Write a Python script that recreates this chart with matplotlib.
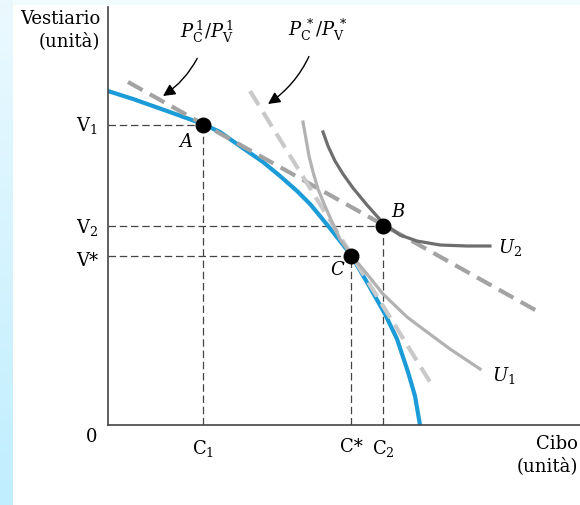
import numpy as np
import matplotlib.pyplot as plt
from matplotlib.colors import LinearSegmentedColormap

plt.rcParams['font.family'] = ['DejaVu Serif']
plt.rcParams['mathtext.fontset'] = 'dejavuserif'

# frontiera delle possibilita produttive
ppf_x = [0, 25, 59, 95, 112, 129, 155, 172, 189, 202, 212, 225, 243, 260, 277, 289, 300, 307, 312]
ppf_y = [334, 326, 314, 301, 293, 281, 263, 249, 234, 221, 209, 193, 170, 141, 111, 86, 53, 29, 0]

# curve di indifferenza
u1_x = [195, 198, 201, 205, 210, 217, 224, 232, 244, 259, 275, 299, 319, 342, 372]
u1_y = [303, 286, 269, 253, 236, 219, 203, 186, 169, 151, 131, 108, 93, 76, 56]
u2_x = [215, 220, 227, 235, 245, 259, 276, 292, 309, 332, 359, 382]
u2_y = [293, 279, 264, 251, 237, 220, 201, 190, 184, 180, 179, 179]

# rette dei prezzi relativi
p1_x = [20, 429]
p1_y = [343, 114]
pstar_x = [142, 322]
pstar_y = [334, 43]

# punti A, B, C
pt_names = ['A', 'B', 'C']
pt_x = [95, 275, 243]
pt_y = [300, 199, 169]

fig = plt.figure(figsize=(5.8, 5.06), dpi=100)

# fascia azzurra a sinistra e in alto
bg = fig.add_axes([0, 0, 13 / 580, 1])
grad = np.linspace(0, 1, 100).reshape(-1, 1)
bg.imshow(grad, aspect='auto', origin='lower',
          cmap=LinearSegmentedColormap.from_list('sf', ['#c0eeff', '#ebf9fe']))
bg.axis('off')
top = fig.add_axes([13 / 580, 1 - 6 / 506, 1, 6 / 506])
top.axis('off')
top.add_patch(plt.Rectangle((0, 0), 1, 1, color='#f0fbfe', transform=top.transAxes))

ax = fig.add_axes([108 / 580, 80 / 506, 472 / 580, 418 / 506])
ax.set_xlim(0, 472)
ax.set_ylim(0, 418)
for s in ['top', 'right']:
    ax.spines[s].set_visible(False)
for s in ['left', 'bottom']:
    ax.spines[s].set_color('#444444')
    ax.spines[s].set_linewidth(1.2)
ax.set_xticks([])
ax.set_yticks([])
ax.patch.set_alpha(0)

ax.plot(ppf_x, ppf_y, color='#1b9bd7', lw=3, solid_capstyle='butt', solid_joinstyle='round', zorder=2)
ax.plot(p1_x, p1_y, color='#a3a3a3', lw=3, dashes=(4, 2), zorder=3)
ax.plot(pstar_x, pstar_y, color='#c9c9c9', lw=3, dashes=(4, 2), zorder=3)
ax.plot(u1_x, u1_y, color='#b2b2b2', lw=2.3, solid_joinstyle='round', zorder=4)
ax.plot(u2_x, u2_y, color='#6e6e6e', lw=2.3, solid_joinstyle='round', zorder=4)

for x, y in zip(pt_x, pt_y):
    ax.plot([0, x], [y, y], color='#444444', lw=0.9, dashes=(6, 3), zorder=1)
    ax.plot([x, x], [0, y], color='#444444', lw=0.9, dashes=(6, 3), zorder=1)
ax.scatter(pt_x, pt_y, s=110, color='black', zorder=6)

fs = 13
ax.text(78, 284, 'A', fontsize=fs, style='italic', ha='center', va='center')
ax.text(290, 214, 'B', fontsize=fs, style='italic', ha='center', va='center')
ax.text(229, 156, 'C', fontsize=fs, style='italic', ha='center', va='center')
ax.text(384, 51, '$U_1$', fontsize=fs, ha='left', va='center')
ax.text(390, 178, '$U_2$', fontsize=fs, ha='left', va='center')

ax.text(-8, 396, 'Vestiario\n(unità)', fontsize=fs, ha='right', va='center',
        multialignment='right', linespacing=1.25, clip_on=False)
ax.text(470, -29, 'Cibo\n(unità)', fontsize=fs, ha='right', va='center',
        multialignment='right', linespacing=1.25, clip_on=False)
ax.text(-10, 300, r'$\mathrm{V}_1$', fontsize=fs, ha='right', va='center', clip_on=False)
ax.text(-10, 199, r'$\mathrm{V}_2$', fontsize=fs, ha='right', va='center', clip_on=False)
ax.text(-10, 165, 'V*', fontsize=fs, ha='right', va='center', clip_on=False)
ax.text(-16, -11, '0', fontsize=fs, ha='center', va='center', clip_on=False)
ax.text(95, -12, r'$\mathrm{C}_1$', fontsize=fs, ha='center', va='top', clip_on=False)
ax.text(243, -12, 'C*', fontsize=fs, ha='center', va='top', clip_on=False)
ax.text(275, -12, r'$\mathrm{C}_2$', fontsize=fs, ha='center', va='top', clip_on=False)

ax.annotate(r'$P_{\mathrm{C}}^{\,1}/P_{\mathrm{V}}^{\,1}$', xy=(55, 329), xytext=(99, 394),
            fontsize=fs, ha='center', va='center',
            arrowprops=dict(arrowstyle='-|>', color='black', lw=1, mutation_scale=18,
                            connectionstyle='arc3,rad=-0.2', shrinkA=9, shrinkB=0))
ax.annotate(r'$P_{\mathrm{C}}^{\,*}/P_{\mathrm{V}}^{\,*}$', xy=(160, 321), xytext=(210, 396),
            fontsize=fs, ha='center', va='center',
            arrowprops=dict(arrowstyle='-|>', color='black', lw=1, mutation_scale=18,
                            connectionstyle='arc3,rad=-0.2', shrinkA=9, shrinkB=0))

fig.savefig('out.png', dpi=100)
